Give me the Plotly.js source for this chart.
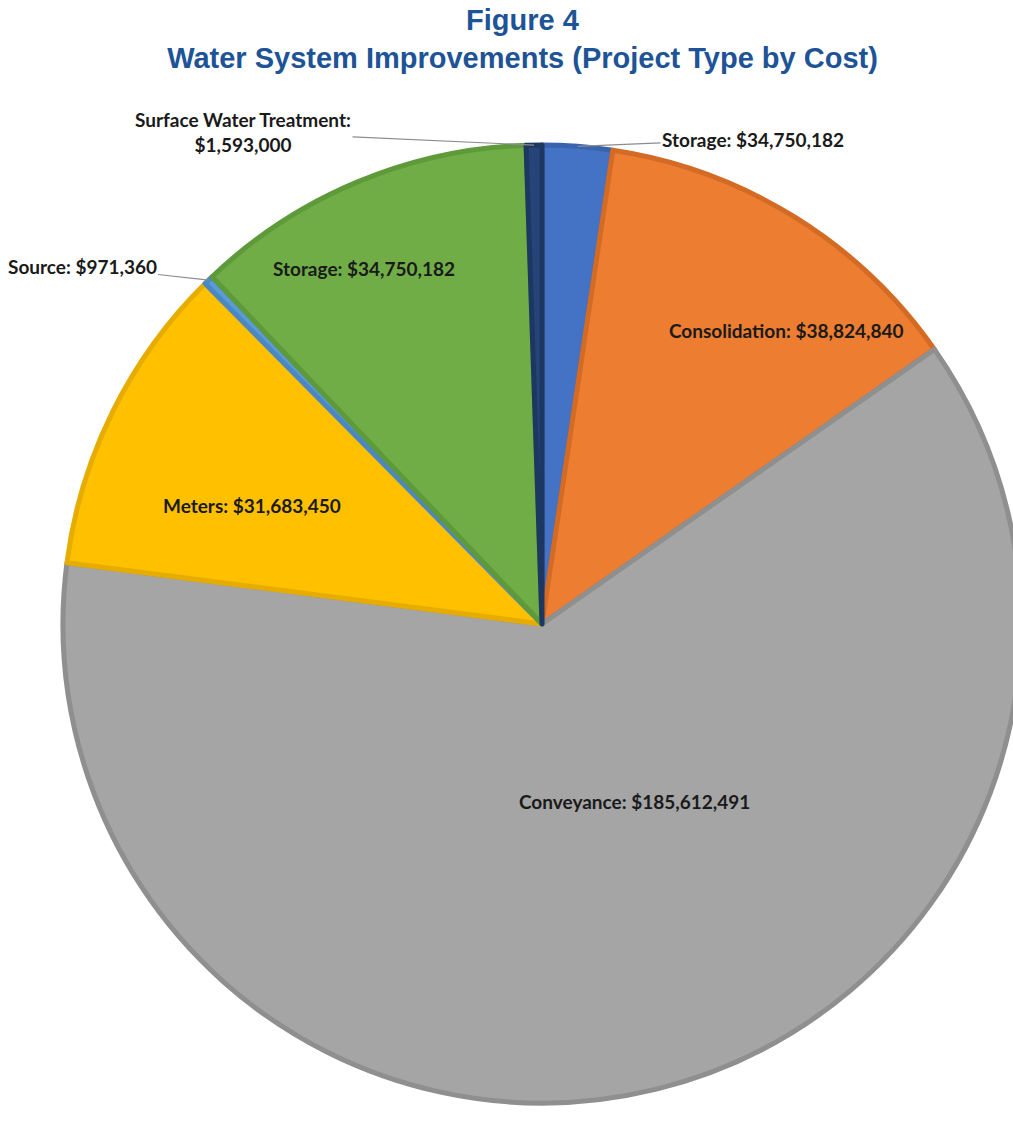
<!DOCTYPE html>
<html>
<head>
<meta charset="utf-8">
<script src="https://cdn.plot.ly/plotly-3.0.1.min.js"></script>
<style>
  html, body { margin: 0; padding: 0; overflow: hidden; background: #ffffff; }
  #chart { width: 1080px; height: 1122px; }
</style>
</head>
<body>
<div id="chart"></div>
<script>
// ---- Data (clockwise from 12 o'clock) ----
const categories = ['Storage', 'Consolidation', 'Conveyance', 'Meters', 'Source', 'Storage', 'Surface Water Treatment'];
const costLabels = ['$34,750,182', '$38,824,840', '$185,612,491', '$31,683,450', '$971,360', '$34,750,182', '$1,593,000'];
// slice sizes (first blue slice estimated from its angle)
const values = [7100000, 38824840, 185612491, 31683450, 971360, 34750182, 1593000];

// ---- Styling ----
const sliceColors = ['#4472C4', '#ED7D31', '#A5A5A5', '#FFC000', '#5B9BD5', '#70AD47', '#264478'];
const borderColors = ['#3a63ad', '#d46b25', '#8f8f8f', '#e6ad00', '#4a88c2', '#5f9a3a', '#1d3763'];

const W = 1080, H = 1122;
const CX = 542, CY = 624, R = 479;

// label placement (pixels): inside labels at fixed spots; leader labels via offset from slice edge
const labelSpots = [
  {x: 753, y: 139, leader: true},
  {x: 786, y: 331},
  {x: 634, y: 801},
  {x: 252, y: 505},
  {x: 82,  y: 266, leader: true},
  {x: 364, y: 268},
  {x: 243, y: 132, leader: true, twoLine: true}
];

const px2x = p => p / W;
const py2y = p => 1 - p / H;

const total = values.reduce((a, b) => a + b, 0);
let cum = 0;
const annotations = [];
values.forEach((v, i) => {
  const mid = (cum + v / 2) / total * 2 * Math.PI; // clockwise from top
  cum += v;
  const spot = labelSpots[i];
  const txt = spot.twoLine ? categories[i] + ':<br>' + costLabels[i] : categories[i] + ': ' + costLabels[i];
  const font = {family: 'Lato, "Open Sans", sans-serif', size: 19, color: '#1a1a1a', weight: 'bold'};
  if (spot.leader) {
    const tx = CX + R * Math.sin(mid);
    const ty = CY - R * Math.cos(mid);
    annotations.push({
      x: px2x(tx), y: py2y(ty), xref: 'paper', yref: 'paper',
      text: txt, font: font, showarrow: true, arrowhead: 0, arrowwidth: 1.2,
      arrowcolor: '#8c8c8c', ax: spot.x - tx, ay: spot.y - ty, standoff: 0,
      xanchor: 'center', yanchor: 'middle', align: 'center'
    });
  } else {
    annotations.push({
      x: px2x(spot.x), y: py2y(spot.y), xref: 'paper', yref: 'paper',
      text: txt, font: font, showarrow: false,
      xanchor: 'center', yanchor: 'middle'
    });
  }
});

const trace = {
  type: 'pie',
  values: values,
  text: categories.map((c, i) => c + ': ' + costLabels[i]),
  textinfo: 'none',
  hoverinfo: 'text',
  sort: false,
  direction: 'clockwise',
  rotation: 0,
  marker: {colors: sliceColors, line: {color: borderColors, width: 5}},
  domain: {x: [(CX - R) / W, (CX + R) / W], y: [py2y(CY + R), py2y(CY - R)]},
  showlegend: false
};

const layout = {
  width: W, height: H,
  margin: {l: 0, r: 0, t: 0, b: 0},
  paper_bgcolor: '#ffffff',
  title: {
    text: 'Figure 4<br>Water System Improvements (Project Type by Cost)',
    font: {family: '"Liberation Sans", Arial, sans-serif', size: 29, color: '#1d5397', weight: 'bold'},
    x: 522.5 / W, xanchor: 'center', xref: 'paper',
    y: 1 - 30 / H, yanchor: 'middle', yref: 'container'
  },
  annotations: annotations,
  showlegend: false
};

Plotly.newPlot('chart', [trace], layout, {displayModeBar: false, staticPlot: true});
</script>
</body>
</html>
